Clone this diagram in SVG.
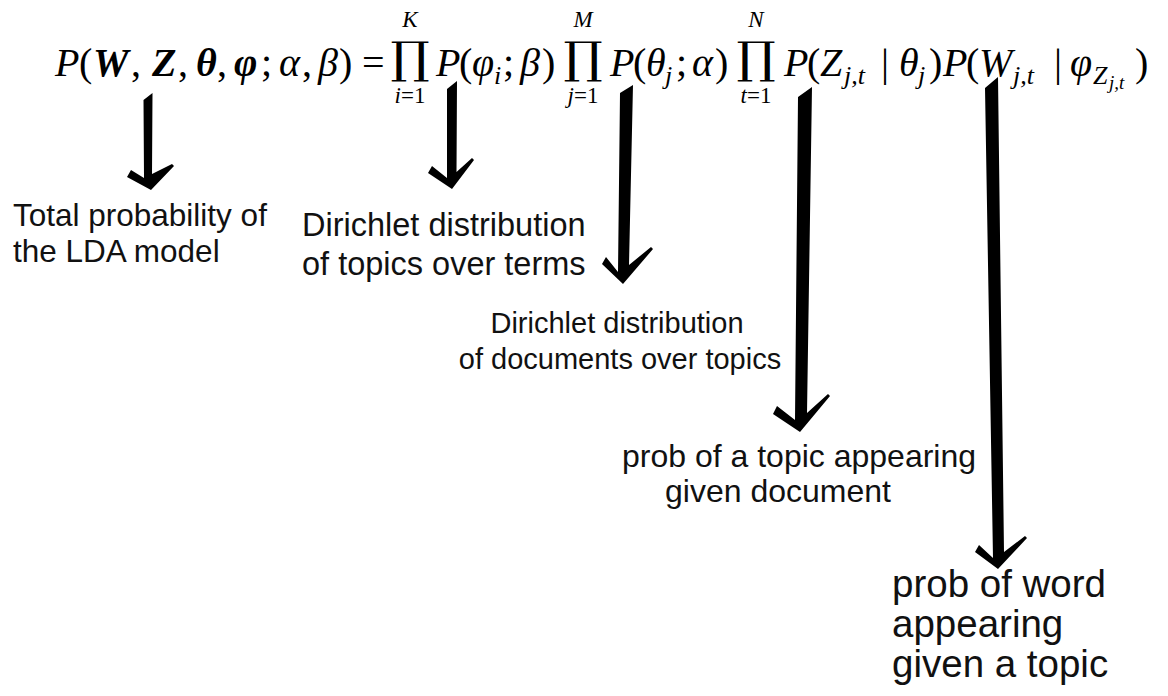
<svg xmlns="http://www.w3.org/2000/svg" width="1168" height="696" viewBox="0 0 1168 696">
<style>
  .eq { font-family: "Liberation Serif", "DejaVu Serif", serif; font-size: 40px; fill: #000; }
  .it { font-style: italic; }
  .bi { font-style: italic; font-weight: bold; }
  .sub { font-size: 26px; }
  .ssub { font-size: 19px; }
  .lim { font-family: "Liberation Serif", "DejaVu Serif", serif; font-size: 23px; fill: #000; text-anchor: middle; }
  .prod { font-family: "DejaVu Serif", serif; font-size: 44px; fill: #000; text-anchor: middle; }
  .lbl { font-family: "Liberation Sans", Arial, sans-serif; fill: #111; }
  .arrow { fill: #000; filter: url(#soft); }
</style>
<defs>
  <filter id="soft" x="-20%" y="-5%" width="140%" height="110%">
    <feGaussianBlur stdDeviation="0.6"/>
  </filter>
</defs>
<rect width="1168" height="696" fill="#fff"/>

<g id="equation">
  <text class="eq" y="76"><tspan class="it" x="55">P</tspan><tspan x="79">(</tspan><tspan class="bi" x="93">W</tspan><tspan x="131">,</tspan><tspan class="bi" x="152">Z</tspan><tspan x="178">,</tspan><tspan class="bi" x="196">θ</tspan><tspan x="217">,</tspan><tspan class="bi" x="234">φ</tspan><tspan x="261">;</tspan><tspan class="it" x="279">α</tspan><tspan x="302">,</tspan><tspan class="it" x="318">β</tspan><tspan x="339">)</tspan><tspan x="362">=</tspan></text>

  <text class="prod" transform="translate(410,73) scale(1.12,1)">∏</text>
  <text class="lim it" x="410" y="27">K</text>
  <text class="lim" x="410" y="103"><tspan class="it">i</tspan>=1</text>

  <text class="eq" y="76"><tspan class="it" x="436">P</tspan><tspan x="459">(</tspan><tspan class="it" x="472">φ</tspan><tspan class="it sub" x="494" dy="8">i</tspan><tspan x="503" dy="-8">;</tspan><tspan class="it" x="520">β</tspan><tspan x="542">)</tspan></text>

  <text class="prod" transform="translate(583,73) scale(1.12,1)">∏</text>
  <text class="lim it" x="583" y="27">M</text>
  <text class="lim" x="583" y="103"><tspan class="it">j</tspan>=1</text>

  <text class="eq" y="76"><tspan class="it" x="610">P</tspan><tspan x="633">(</tspan><tspan class="it" x="646">θ</tspan><tspan class="it sub" x="665" dy="8">j</tspan><tspan x="676" dy="-8">;</tspan><tspan class="it" x="692">α</tspan><tspan x="715">)</tspan></text>

  <text class="prod" transform="translate(756,73) scale(1.12,1)">∏</text>
  <text class="lim it" x="756" y="27">N</text>
  <text class="lim" x="756" y="103"><tspan class="it">t</tspan>=1</text>

  <text class="eq" y="76"><tspan class="it" x="784">P</tspan><tspan x="807">(</tspan><tspan class="it" x="820">Z</tspan><tspan class="it sub" x="844" dy="8">j,t</tspan><tspan x="881" dy="-8">|</tspan><tspan class="it" x="899">θ</tspan><tspan class="it sub" x="918" dy="8">j</tspan><tspan x="929" dy="-8">)</tspan><tspan class="it" x="943">P</tspan><tspan x="966">(</tspan><tspan class="it" x="979">W</tspan><tspan class="it sub" x="1013" dy="8">j,t</tspan><tspan x="1054" dy="-8">|</tspan><tspan class="it" x="1070">φ</tspan><tspan class="it sub" x="1093" dy="8">Z</tspan><tspan class="it ssub" x="1109" dy="5">j,t</tspan><tspan x="1135" dy="-13">)</tspan></text>
</g>

<g id="connectors">
  <polygon class="arrow" points="143.5,100 152.5,93 152,174 172,164 174,166 151,190 127,177 131,170 144,178"/>
  <polygon class="arrow" points="447,89 457,81 456.5,172 472,158 474,160 452,189 428,173 432,166 447,178"/>
  <polygon class="arrow" points="620,93 633,85 629,265 651,247 653,249 623,284 602,264 606,257 618,272"/>
  <polygon class="arrow" points="798,97 812,87 807,413 828,394 830,396 800,432 773,414 777,406 795,420"/>
  <polygon class="arrow" points="985,88 998,77 1004,552 1025,536 1027,538 998,569 975,552 979,545 993,558"/>
</g>

<g id="label-total">
  <text class="lbl" font-size="31.5" x="13" y="226">Total probability of</text>
  <text class="lbl" font-size="31.5" x="13" y="262">the LDA model</text>
</g>
<g id="label-topics-terms">
  <text class="lbl" font-size="32.5" x="302" y="236">Dirichlet distribution</text>
  <text class="lbl" font-size="32.5" x="302" y="275">of topics over terms</text>
</g>
<g id="label-docs-topics">
  <text class="lbl" font-size="29" x="617" y="333" text-anchor="middle">Dirichlet distribution</text>
  <text class="lbl" font-size="29" x="620" y="369" text-anchor="middle">of documents over topics</text>
</g>
<g id="label-topic-doc">
  <text class="lbl" font-size="32" x="622" y="467">prob of a topic appearing</text>
  <text class="lbl" font-size="32" x="665" y="502">given document</text>
</g>
<g id="label-word-topic">
  <text class="lbl" font-size="38.5" x="892" y="597">prob of word</text>
  <text class="lbl" font-size="38.5" x="892" y="637">appearing</text>
  <text class="lbl" font-size="38.5" x="892" y="677">given a topic</text>
</g>
</svg>
